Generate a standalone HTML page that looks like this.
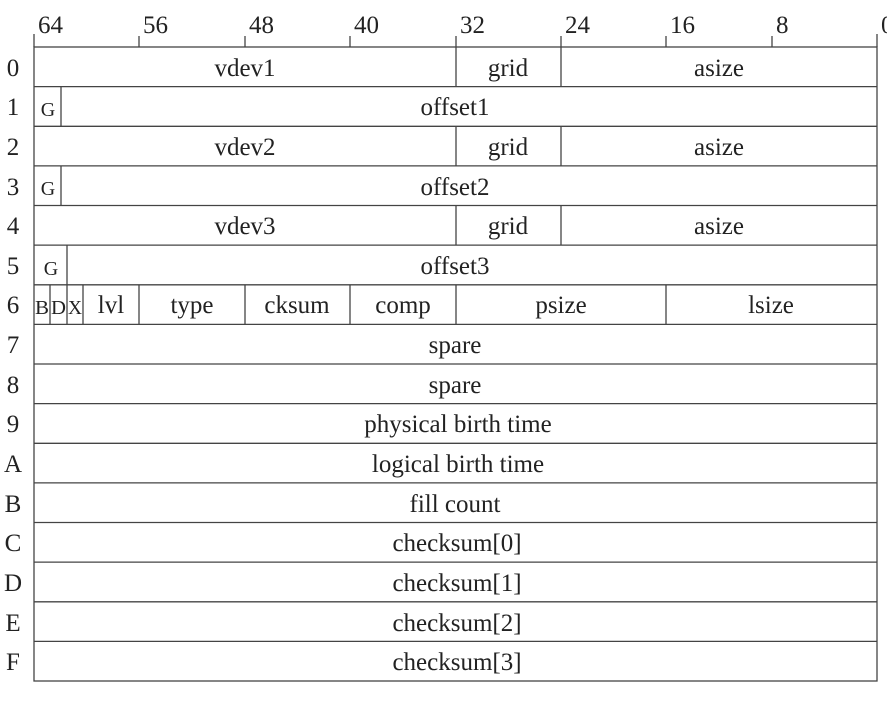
<!DOCTYPE html>
<html><head><meta charset="utf-8"><style>
html,body{margin:0;padding:0;background:#fff;}
svg{display:block;}
text{font-family:"Liberation Serif",serif;font-size:25px;fill:#222;}
.s{font-size:20px;}
</style></head><body>
<svg width="887" height="712" viewBox="0 0 887 712" xmlns="http://www.w3.org/2000/svg">
<g stroke="#444" stroke-width="1.3" fill="none">
<rect x="34" y="47" width="843" height="634"/>
<line x1="34" y1="86.6" x2="877" y2="86.6"/>
<line x1="34" y1="126.3" x2="877" y2="126.3"/>
<line x1="34" y1="165.9" x2="877" y2="165.9"/>
<line x1="34" y1="205.5" x2="877" y2="205.5"/>
<line x1="34" y1="245.1" x2="877" y2="245.1"/>
<line x1="34" y1="284.8" x2="877" y2="284.8"/>
<line x1="34" y1="324.4" x2="877" y2="324.4"/>
<line x1="34" y1="364" x2="877" y2="364"/>
<line x1="34" y1="403.6" x2="877" y2="403.6"/>
<line x1="34" y1="443.3" x2="877" y2="443.3"/>
<line x1="34" y1="482.9" x2="877" y2="482.9"/>
<line x1="34" y1="522.5" x2="877" y2="522.5"/>
<line x1="34" y1="562.1" x2="877" y2="562.1"/>
<line x1="34" y1="601.8" x2="877" y2="601.8"/>
<line x1="34" y1="641.4" x2="877" y2="641.4"/>
<line x1="34" y1="34" x2="34" y2="47"/>
<line x1="139" y1="36" x2="139" y2="47"/>
<line x1="245" y1="36" x2="245" y2="47"/>
<line x1="350" y1="36" x2="350" y2="47"/>
<line x1="456" y1="36" x2="456" y2="47"/>
<line x1="561" y1="36" x2="561" y2="47"/>
<line x1="666" y1="36" x2="666" y2="47"/>
<line x1="772" y1="36" x2="772" y2="47"/>
<line x1="877" y1="34" x2="877" y2="47"/>
<line x1="456" y1="47" x2="456" y2="86.6"/><line x1="561" y1="47" x2="561" y2="86.6"/>
<line x1="456" y1="126.3" x2="456" y2="165.9"/><line x1="561" y1="126.3" x2="561" y2="165.9"/>
<line x1="456" y1="205.5" x2="456" y2="245.1"/><line x1="561" y1="205.5" x2="561" y2="245.1"/>
<line x1="61" y1="86.6" x2="61" y2="126.3"/>
<line x1="61" y1="165.9" x2="61" y2="205.5"/>
<line x1="67" y1="245.1" x2="67" y2="284.8"/>
<line x1="50" y1="284.8" x2="50" y2="324.4"/>
<line x1="67" y1="284.8" x2="67" y2="324.4"/>
<line x1="83" y1="284.8" x2="83" y2="324.4"/>
<line x1="139" y1="284.8" x2="139" y2="324.4"/>
<line x1="245" y1="284.8" x2="245" y2="324.4"/>
<line x1="350" y1="284.8" x2="350" y2="324.4"/>
<line x1="456" y1="284.8" x2="456" y2="324.4"/>
<line x1="666" y1="284.8" x2="666" y2="324.4"/>
</g>
<g>
<text x="38" y="33">64</text>
<text x="143" y="33">56</text>
<text x="249" y="33">48</text>
<text x="354" y="33">40</text>
<text x="460" y="33">32</text>
<text x="565" y="33">24</text>
<text x="670" y="33">16</text>
<text x="776" y="33">8</text>
<text x="881" y="33">0</text>
</g>
<g text-anchor="middle">
<text x="13" y="76">0</text>
<text x="13" y="115">1</text>
<text x="13" y="155">2</text>
<text x="13" y="195">3</text>
<text x="13" y="234">4</text>
<text x="13" y="274">5</text>
<text x="13" y="313">6</text>
<text x="13" y="353">7</text>
<text x="13" y="393">8</text>
<text x="13" y="432">9</text>
<text x="13" y="472">A</text>
<text x="13" y="512">B</text>
<text x="13" y="551">C</text>
<text x="13" y="591">D</text>
<text x="13" y="631">E</text>
<text x="13" y="670">F</text>
</g>
<g text-anchor="middle">
<text x="245" y="76">vdev1</text><text x="508" y="76">grid</text><text x="719" y="76">asize</text>
<text x="48" y="116" class="s">G</text><text x="455" y="115">offset1</text>
<text x="245" y="155">vdev2</text><text x="508" y="155">grid</text><text x="719" y="155">asize</text>
<text x="48" y="195" class="s">G</text><text x="455" y="195">offset2</text>
<text x="245" y="234">vdev3</text><text x="508" y="234">grid</text><text x="719" y="234">asize</text>
<text x="51" y="275" class="s">G</text><text x="455" y="274">offset3</text>
<text x="42" y="314" class="s" textLength="14" lengthAdjust="spacingAndGlyphs">B</text>
<text x="58.5" y="314" class="s" textLength="15" lengthAdjust="spacingAndGlyphs">D</text>
<text x="75" y="314" class="s" textLength="14" lengthAdjust="spacingAndGlyphs">X</text>
<text x="111" y="313">lvl</text>
<text x="192" y="313">type</text>
<text x="297" y="313">cksum</text>
<text x="403" y="313">comp</text>
<text x="561" y="313">psize</text>
<text x="771" y="313">lsize</text>
<text x="455" y="353">spare</text>
<text x="455" y="393">spare</text>
<text x="458" y="432">physical birth time</text>
<text x="458" y="472">logical birth time</text>
<text x="455" y="512">fill count</text>
<text x="457" y="551">checksum[0]</text>
<text x="457" y="591">checksum[1]</text>
<text x="457" y="631">checksum[2]</text>
<text x="457" y="670">checksum[3]</text>
</g>
</svg>
</body></html>
